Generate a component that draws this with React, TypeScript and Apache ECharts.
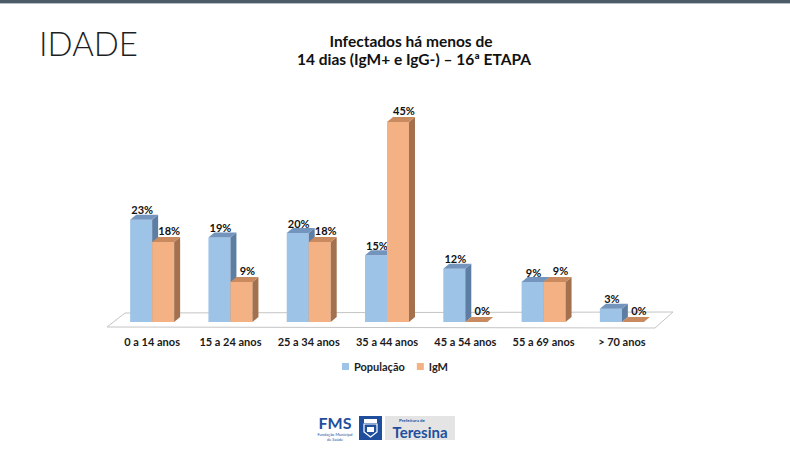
import React, { useEffect, useRef } from "react";
import * as echarts from "echarts";

// chart data
const ageGroups = [
    "0 a 14 anos",
    "15 a 24 anos",
    "25 a 34 anos",
    "35 a 44 anos",
    "45 a 54 anos",
    "55 a 69 anos",
    "> 70 anos",
];
const seriesNames = ["População", "IgM"];
const populacao = [23, 19, 20, 15, 12, 9, 3];
const igm = [18, 9, 18, 45, 0, 9, 0];

const FONT = "Lato, 'Open Sans', sans-serif";
const BAR_RATIO = 0.281; // bar width as share of the category band
const DEPTH_X = 6;
const DEPTH_Y = 5;

const palette = [
    { front: "#9dc3e6", top: "#7395bd", side: "#5d7ea2" },
    { front: "#f4b183", top: "#c98a60", side: "#a4714e" },
];

function makeBarRenderer(seriesIdx: number) {
    const c = palette[seriesIdx];
    return (_params: any, api: any) => {
        const cat = api.value(0);
        const val = api.value(1);
        const [cx, yTop] = api.coord([cat, val]);
        const yBase = api.coord([cat, 0])[1];
        const band = api.size([1, 0])[0];
        const bw = band * BAR_RATIO;
        const x0 = seriesIdx === 0 ? cx - bw : cx;
        const x1 = x0 + bw;

        const children: any[] = [];
        if (yBase - yTop > 0) {
            children.push({
                type: "rect",
                shape: { x: x0, y: yTop, width: bw, height: yBase - yTop },
                style: { fill: c.front },
            });
            children.push({
                type: "polygon",
                shape: {
                    points: [
                        [x1, yTop],
                        [x1 + DEPTH_X, yTop - DEPTH_Y],
                        [x1 + DEPTH_X, yBase - DEPTH_Y],
                        [x1, yBase],
                    ],
                },
                style: { fill: c.side },
            });
        }
        children.push({
            type: "polygon",
            shape: {
                points: [
                    [x0, yTop],
                    [x1, yTop],
                    [x1 + DEPTH_X, yTop - DEPTH_Y],
                    [x0 + DEPTH_X, yTop - DEPTH_Y],
                ],
            },
            style: { fill: c.top },
        });
        children.push({
            type: "text",
            z2: 10,
            style: {
                text: `${val}%`,
                x: x0 + bw / 2 + (seriesIdx === 0 ? 1 : 6),
                y: yTop - (seriesIdx === 0 ? 10 : 12),
                align: "center",
                verticalAlign: "middle",
                fontFamily: FONT,
                fontSize: 11,
                fontWeight: "bold",
                fill: "#111",
            },
        });
        return { type: "group", children };
    };
}

// floor slab under the bars, taken from the grid rectangle
function renderFloor(params: any) {
    const { x, y, width, height } = params.coordSys;
    const yb = y + height;
    return {
        type: "polygon",
        shape: {
            points: [
                [x - 6, yb + 5],
                [x + width - 6, yb + 6],
                [x + width + 12, yb - 10],
                [x + 12, yb - 9],
            ],
        },
        style: { fill: "#ffffff", stroke: "#c4c4c4", lineWidth: 1 },
    };
}

export default function App() {
    const chartRef = useRef<HTMLDivElement>(null);

    useEffect(() => {
        if (chartRef.current === null) return;
        const chart = echarts.init(chartRef.current, undefined, { renderer: "svg" });

        const blue = "#1f4f9c";
        const option: echarts.EChartsOption = {
            animation: false,
            backgroundColor: "#ffffff",
            textStyle: { fontFamily: FONT },
            grid: { left: 113, right: 129, top: 122, bottom: 128 },
            legend: {
                data: seriesNames,
                top: 356,
                left: "center",
                icon: "rect",
                itemWidth: 7,
                itemHeight: 7,
                itemGap: 12,
                textStyle: { fontFamily: FONT, fontSize: 11, fontWeight: "bold", color: "#222" },
            },
            xAxis: {
                type: "category",
                data: ageGroups,
                axisLine: { show: false },
                axisTick: { show: false },
                axisLabel: {
                    margin: 14,
                    fontFamily: FONT,
                    fontSize: 11,
                    fontWeight: "bold",
                    color: "#1a1a1a",
                    interval: 0,
                },
            },
            yAxis: { type: "value", min: 0, max: 45, show: false },
            series: [
                {
                    type: "custom",
                    name: "floor",
                    renderItem: renderFloor as any,
                    data: [[0, 0]],
                    encode: { x: 0, y: 1 },
                    silent: true,
                    z: 1,
                },
                {
                    type: "custom",
                    name: seriesNames[0],
                    renderItem: makeBarRenderer(0) as any,
                    data: populacao.map((v, i) => [i, v]),
                    encode: { x: 0, y: 1 },
                    itemStyle: { color: palette[0].front },
                    z: 2,
                },
                {
                    type: "custom",
                    name: seriesNames[1],
                    renderItem: makeBarRenderer(1) as any,
                    data: igm.map((v, i) => [i, v]),
                    encode: { x: 0, y: 1 },
                    itemStyle: { color: palette[1].front },
                    z: 3,
                },
            ],
            graphic: [
                // slide header line
                { type: "rect", shape: { x: 0, y: 0, width: 790, height: 3 }, style: { fill: "#4d5a67" } },
                { type: "rect", shape: { x: 0, y: 3, width: 790, height: 1 }, style: { fill: "#b7c0c9" } },
                {
                    type: "text",
                    style: {
                        text: "IDADE",
                        x: 39,
                        y: 43,
                        verticalAlign: "middle",
                        fontFamily: FONT,
                        fontSize: 33,
                        fontWeight: 300,
                        fill: "#1e1e1e",
                    },
                },
                {
                    type: "text",
                    style: {
                        text: "Infectados há menos de",
                        x: 411,
                        y: 41,
                        align: "center",
                        verticalAlign: "middle",
                        fontFamily: FONT,
                        fontSize: 15.5,
                        fontWeight: "bold",
                        fill: "#111",
                    },
                },
                {
                    type: "text",
                    style: {
                        text: "14 dias (IgM+ e IgG-) – 16ª ETAPA",
                        x: 414,
                        y: 59,
                        align: "center",
                        verticalAlign: "middle",
                        fontFamily: FONT,
                        fontSize: 15.5,
                        fontWeight: "bold",
                        fill: "#111",
                    },
                },
                // footer logo
                {
                    type: "group",
                    children: [
                        {
                            type: "text",
                            style: {
                                text: "FMS",
                                x: 335,
                                y: 422,
                                align: "center",
                                verticalAlign: "middle",
                                fontFamily: FONT,
                                fontSize: 16,
                                fontWeight: "bold",
                                fill: blue,
                            },
                        },
                        {
                            type: "text",
                            style: {
                                text: "Fundação Municipal",
                                x: 335,
                                y: 434.5,
                                align: "center",
                                verticalAlign: "middle",
                                fontFamily: FONT,
                                fontSize: 4,
                                fill: blue,
                            },
                        },
                        {
                            type: "text",
                            style: {
                                text: "de Saúde",
                                x: 335,
                                y: 439.5,
                                align: "center",
                                verticalAlign: "middle",
                                fontFamily: FONT,
                                fontSize: 4,
                                fill: blue,
                            },
                        },
                        { type: "rect", shape: { x: 359, y: 416, width: 23, height: 24 }, style: { fill: blue } },
                        {
                            type: "polygon",
                            shape: { points: [[364, 424], [377, 424], [377, 432], [370.5, 437], [364, 432]] },
                            style: { fill: "none", stroke: "#ffffff", lineWidth: 1.2 },
                        },
                        { type: "rect", shape: { x: 364, y: 419, width: 13, height: 4 }, style: { fill: "#ffffff" } },
                        { type: "rect", shape: { x: 367, y: 427, width: 7, height: 5 }, style: { fill: "#ffffff" } },
                        { type: "rect", shape: { x: 385, y: 416, width: 70, height: 24 }, style: { fill: "#e4e4e4" } },
                        {
                            type: "text",
                            style: {
                                text: "Prefeitura de",
                                x: 412,
                                y: 420,
                                align: "center",
                                verticalAlign: "middle",
                                fontFamily: FONT,
                                fontSize: 4.5,
                                fontWeight: "bold",
                                fill: blue,
                            },
                        },
                        {
                            type: "text",
                            style: {
                                text: "Teresina",
                                x: 420,
                                y: 432,
                                align: "center",
                                verticalAlign: "middle",
                                fontFamily: FONT,
                                fontSize: 15,
                                fontWeight: "bold",
                                fill: blue,
                            },
                        },
                    ],
                },
            ],
        };

        chart.setOption(option);

        return () => {
            chart.dispose();
        };
    }, []);

    return (
        <div
            ref={chartRef}
            style={{ position: "fixed", left: 0, top: 0, width: "790px", height: "450px" }}
        />
    );
}
